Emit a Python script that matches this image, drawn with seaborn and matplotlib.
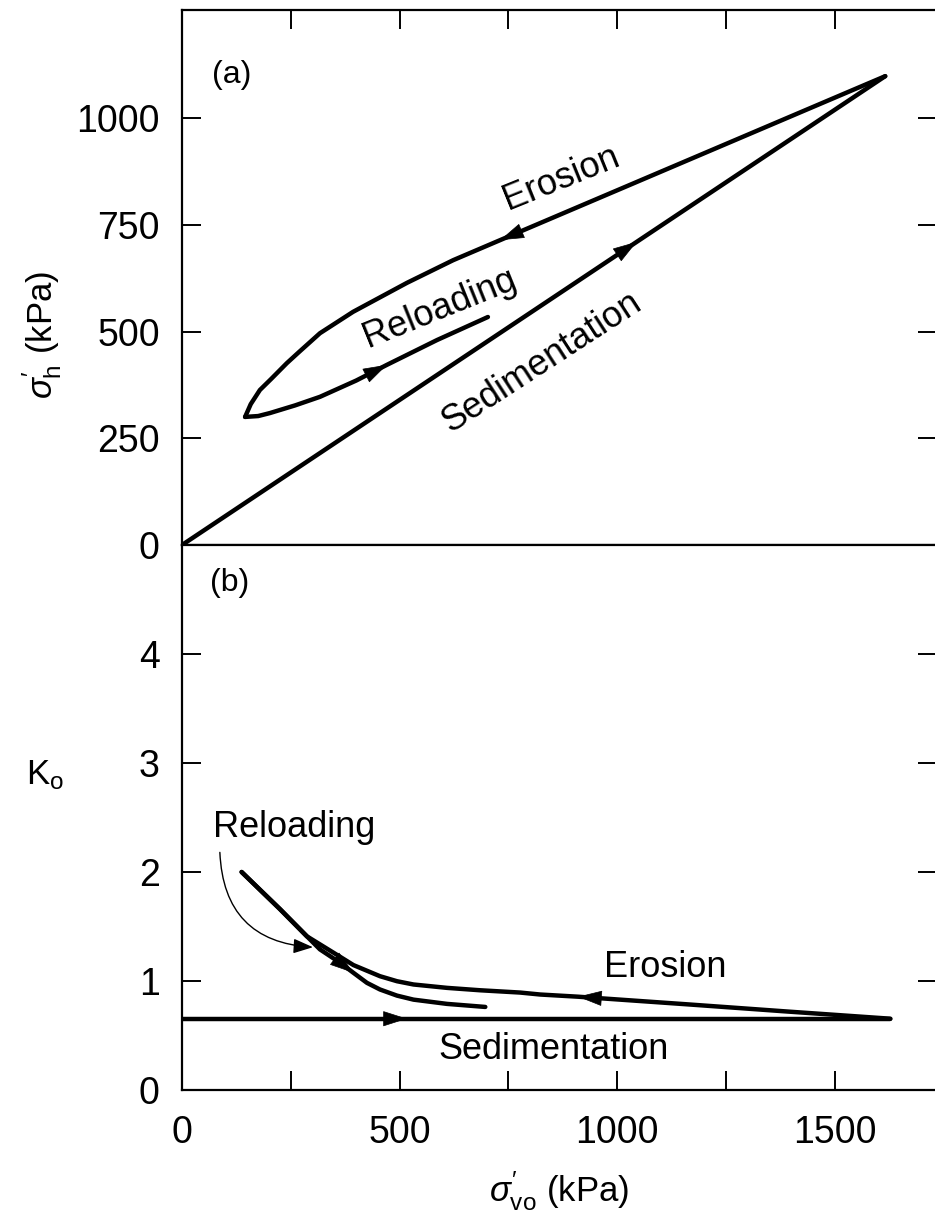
import numpy as np
import matplotlib
matplotlib.use("Agg")
import matplotlib.pyplot as plt
import seaborn as sns

# (a) sigma'_h against sigma'_vo, kPa
sed_vo = [0, 1616]
sed_h = [0, 1098]
ero_vo = [1616, 731, 623, 517, 393, 317, 270, 241, 205, 179, 158, 145]
ero_h = [1098, 714, 667, 614, 546, 496, 453, 426, 389, 363, 330, 300]
rel_vo = [145, 175, 202, 260, 317, 400, 471, 586, 703]
rel_h = [300, 302, 309, 327, 347, 385, 422, 480, 534]

# (b) K_o against sigma'_vo
k_sed_vo = [0, 1628]
k_sed = [0.654, 0.654]
k_ero_vo = [1628, 1391, 1161, 910, 823, 777, 685, 609, 532, 494, 455, 394, 348, 287, 225, 137]
k_ero = [0.654, 0.72, 0.786, 0.856, 0.876, 0.894, 0.915, 0.937, 0.968, 0.998, 1.044, 1.146, 1.26, 1.41, 1.66, 2.0]
k_rel_vo = [137, 225, 287, 317, 363, 394, 425, 455, 494, 532, 609, 697]
k_rel = [2.0, 1.66, 1.41, 1.29, 1.168, 1.075, 0.983, 0.922, 0.866, 0.829, 0.79, 0.762]

# where the direction arrows sit (sigma'_vo)
arrows_a = {"sed": 1045, "ero": 731, "rel": 471}
arrows_b = {"sed": 517, "ero": 910, "rel": 394}

x_ticks = [0, 250, 500, 750, 1000, 1250, 1500]
x_labels = ["0", "", "500", "", "1000", "", "1500"]
ya_ticks = [0, 250, 500, 750, 1000]
yb_ticks = [0, 1, 2, 3, 4]

sns.set_style("ticks")
plt.rcParams["font.family"] = ["Liberation Sans", "DejaVu Sans"]
plt.rcParams["mathtext.fontset"] = "custom"
plt.rcParams["mathtext.rm"] = "Liberation Sans"
plt.rcParams["mathtext.it"] = "Liberation Sans:italic"
for k in ("text.color", "axes.labelcolor", "xtick.color", "ytick.color", "axes.edgecolor"):
    plt.rcParams[k] = "black"

W, H = 935, 1217
fig = plt.figure(figsize=(W / 100, H / 100), dpi=100)
left, right = 182 / W, 937 / W
ax1 = fig.add_axes([left, 1 - 545 / H, right - left, (545 - 10) / H])
ax2 = fig.add_axes([left, 1 - 1090 / H, right - left, (1090 - 545) / H])

LW = 3.2


def draw(ax, xs, ys):
    sns.lineplot(x=xs, y=ys, sort=False, estimator=None, color="k", lw=LW,
                 legend=False, ax=ax, solid_capstyle="round", solid_joinstyle="round")


def arrow_on(ax, xs, ys, xa):
    xs = np.asarray(xs, float)
    ys = np.asarray(ys, float)
    for i in range(len(xs) - 1):
        lo, hi = sorted((xs[i], xs[i + 1]))
        if lo <= xa <= hi and xs[i] != xs[i + 1]:
            t = (xa - xs[i]) / (xs[i + 1] - xs[i])
            tip = (xa, ys[i] + t * (ys[i + 1] - ys[i]))
            back = (tip[0] - 0.2 * (xs[i + 1] - xs[i]), tip[1] - 0.2 * (ys[i + 1] - ys[i]))
            ax.annotate("", xy=tip, xytext=back,
                        arrowprops=dict(arrowstyle="-|>,head_length=1.0,head_width=0.32",
                                        color="k", lw=0.5, shrinkA=0, shrinkB=0,
                                        mutation_scale=16))
            return


# panel (a)
draw(ax1, sed_vo, sed_h)
draw(ax1, ero_vo, ero_h)
draw(ax1, rel_vo, rel_h)
arrow_on(ax1, sed_vo, sed_h, arrows_a["sed"])
arrow_on(ax1, ero_vo, ero_h, arrows_a["ero"])
arrow_on(ax1, rel_vo, rel_h, arrows_a["rel"])

# panel (b)
draw(ax2, k_sed_vo, k_sed)
draw(ax2, k_ero_vo, k_ero)
draw(ax2, k_rel_vo, k_rel)
arrow_on(ax2, k_sed_vo, k_sed, arrows_b["sed"])
arrow_on(ax2, k_ero_vo, k_ero, arrows_b["ero"])
arrow_on(ax2, k_rel_vo, k_rel, arrows_b["rel"])

for ax in (ax1, ax2):
    ax.set_xlim(0, 1735)
    for s in ax.spines.values():
        s.set_linewidth(1.6)
    ax.tick_params(direction="in", length=14, width=1.4, labelsize=27, pad=14)
    ax.tick_params(axis="y", pad=16)

ax1.set_ylim(0, 1253)
ax1.set_xticks(x_ticks)
ax1.set_yticks(ya_ticks)
ax1.tick_params(top=True, bottom=False, labelbottom=False, right=True)
ax2.set_ylim(0, 5)
ax2.set_xticks(x_ticks)
ax2.set_xticklabels(x_labels)
ax2.set_yticks(yb_ticks)
ax2.tick_params(top=False, bottom=True, right=True, axis="x", pad=18)
ax2.tick_params(axis="y", right=True)

ax1.set_ylabel(r"$\sigma^{\prime}_{\mathrm{h}}$ (kPa)", fontsize=25, va="center")
ax1.yaxis.set_label_coords(-0.185, 0.392)
ax2.set_ylabel(r"K$_{\mathrm{o}}$", fontsize=25, rotation=0, va="center", ha="center")
ax2.yaxis.set_label_coords(-0.181, 0.578)
ax2.set_xlabel(r"$\sigma^{\prime}_{\mathrm{vo}}$ (kPa)", fontsize=25, va="center")
ax2.xaxis.set_label_coords(0.5, -0.185)

tk = dict(fontsize=26, ha="center", va="center")
pk = dict(fontsize=23, ha="center", va="center")
ax1.text(115, 1100, "(a)", **pk)
ax1.text(871, 860, "Erosion", rotation=22, **tk)
ax1.text(593, 555, "Reloading", rotation=22, **tk)
ax1.text(828, 428, "Sedimentation", rotation=33, **tk)

ax2.text(110, 4.65, "(b)", **pk)
ax2.text(1110, 1.12, "Erosion", **tk)
ax2.text(853, 0.37, "Sedimentation", **tk)
ax2.text(257, 2.41, "Reloading", **tk)
ax2.annotate("", xy=(301, 1.31), xytext=(87, 2.18),
             arrowprops=dict(arrowstyle="-|>,head_length=0.8,head_width=0.3",
                             color="k", lw=1.0, shrinkA=0, shrinkB=0,
                             mutation_scale=15,
                             connectionstyle="arc3,rad=0.45"))

fig.savefig("out.png", dpi=100)
